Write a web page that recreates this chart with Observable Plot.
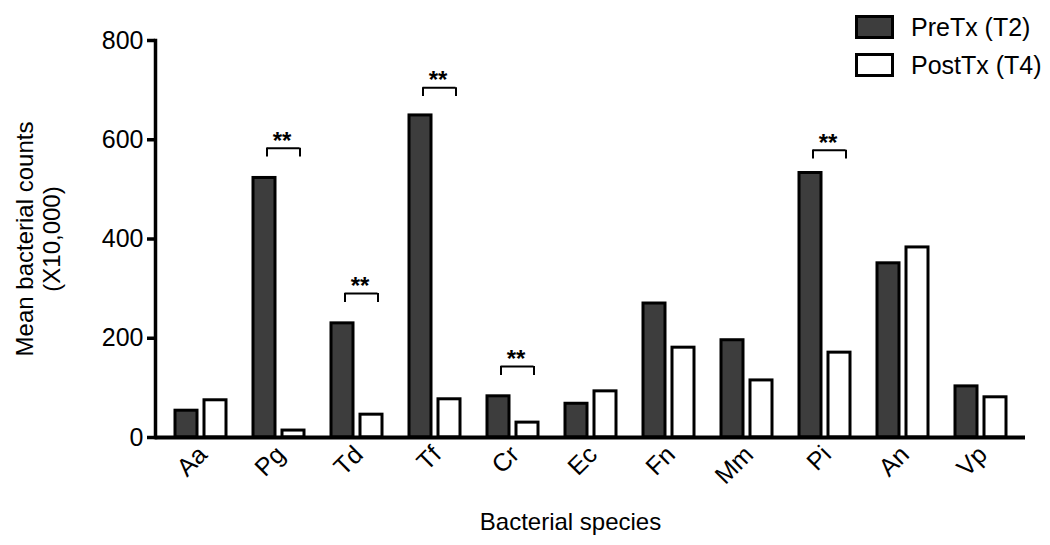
<!DOCTYPE html>
<html><head><meta charset="utf-8">
<script src="https://cdn.jsdelivr.net/npm/d3@7"></script>
<script src="https://cdn.jsdelivr.net/npm/@observablehq/plot@0.6"></script>
<style>
body{margin:0;background:#fff;font-family:"Liberation Sans",Arial,sans-serif;color:#000;}
#wrap{position:relative;width:1050px;height:545px;}
#legend{position:absolute;left:855px;top:8px;font-size:25px;line-height:1;}
.item{display:flex;align-items:center;height:38px;}
.sw{width:33px;height:18px;border:3px solid #000;margin-right:17px;box-sizing:content-box;}
</style></head><body>
<div id="wrap"><div id="legend"></div></div>
<script>
const species = ["Aa","Pg","Td","Tf","Cr","Ec","Fn","Mm","Pi","An","Vp"];
const seriesNames = ["PreTx (T2)","PostTx (T4)"];
const preTx  = [54, 523, 230, 649, 83, 68, 270, 196, 533, 351, 103];
const postTx = [75, 14, 46, 77, 30, 93, 181, 115, 171, 383, 81];
const yTicks = [0, 200, 400, 600, 800];
const sigSpecies = ["Pg","Td","Tf","Cr","Pi"];
const sigBracket = [583, 290, 705, 143, 579];
const sigLabel = "**";
const bracketDrop = 18;
const seriesColors = ["#3d3d3d", "#ffffff"];
const yTitle = "Mean bacterial counts\n(X10,000)";
const xTitle = "Bacterial species";

const pre = species.map((s, i) => ({species: s, series: seriesNames[0], value: preTx[i]}));
const post = species.map((s, i) => ({species: s, series: seriesNames[1], value: postTx[i]}));
const sig = sigSpecies.map((s, i) => ({species: s, h: sigBracket[i], lo: sigBracket[i] - bracketDrop}));

const chart = Plot.plot({
  width: 1050, height: 545,
  marginTop: 40, marginBottom: 108, marginLeft: 155, marginRight: 25,
  style: {fontFamily: "Liberation Sans, Arial, sans-serif", color: "#000", background: "#fff"},
  x: {domain: species, paddingInner: 0.35, paddingOuter: 0.22, axis: null},
  y: {domain: [0, 800], axis: null},
  color: {domain: seriesNames, range: seriesColors},
  marks: [
    Plot.barY(pre, {x: "species", y: "value", fill: "series", stroke: "#000", strokeWidth: 3, insetRight: 29}),
    Plot.barY(post, {x: "species", y: "value", fill: "series", stroke: "#000", strokeWidth: 3, insetLeft: 29}),
    Plot.ruleY(sig, {y: "h", x1: "species", x2: "species", insetLeft: 13.5, insetRight: 4.5, strokeWidth: 2}),
    Plot.ruleX(sig, {x: "species", y1: "lo", y2: "h", dx: -12, strokeWidth: 2}),
    Plot.ruleX(sig, {x: "species", y1: "lo", y2: "h", dx: 21, strokeWidth: 2}),
    Plot.text(sig, {x: "species", y: "h", text: () => sigLabel, dx: 3, dy: -7, fontSize: 24, fontWeight: "bold"}),
    Plot.ruleY([0], {strokeWidth: 4}),
    Plot.frame({anchor: "left", strokeWidth: 3.5}),
    Plot.axisY(yTicks, {tickSize: 8, tickPadding: 4, strokeWidth: 3.5, fontSize: 25, label: null}),
    Plot.axisX({tickSize: 0, tickPadding: 13, tickRotate: -45, fontSize: 25, dx: 2, label: null}),
    Plot.text([yTitle], {text: d => d, frameAnchor: "left", rotate: -90, lineAnchor: "top", textAnchor: "middle",
      lineHeight: 1.1, fontSize: 24, dx: -141}),
    Plot.text([xTitle], {text: d => d, frameAnchor: "bottom", lineAnchor: "middle", fontSize: 24, dx: -20, dy: 85})
  ]
});
document.getElementById("wrap").prepend(chart);

const legend = document.getElementById("legend");
seriesNames.forEach((name, i) => {
  const item = document.createElement("div");
  item.className = "item";
  const sw = document.createElement("span");
  sw.className = "sw";
  sw.style.background = seriesColors[i];
  const t = document.createElement("span");
  t.textContent = name;
  item.append(sw, t);
  legend.append(item);
});
</script>
</body></html>
